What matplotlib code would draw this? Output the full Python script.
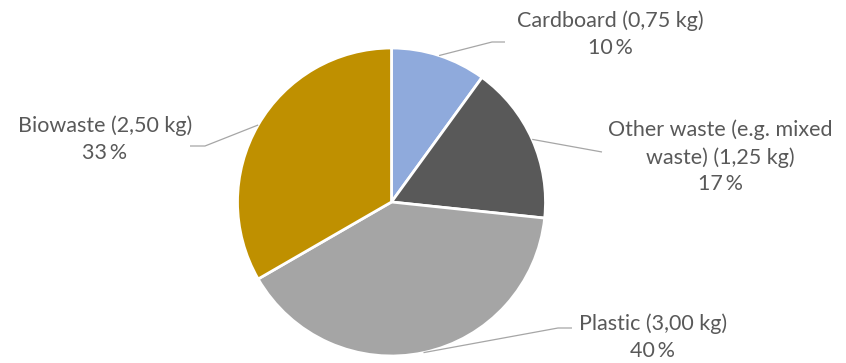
import numpy as np
import matplotlib
matplotlib.use("Agg")
import matplotlib.pyplot as plt

# Waste composition per household (kg)
categories = ["Cardboard", "Other waste (e.g. mixed\nwaste)", "Plastic", "Biowaste"]
weights_kg = [0.75, 1.25, 3.00, 2.50]
colors = ["#8FAADC", "#595959", "#A5A5A5", "#BF9000"]

W, H = 846, 363
fig = plt.figure(figsize=(W / 100, H / 100), dpi=100)
ax = fig.add_axes([0, 0, 1, 1])
ax.set_xlim(0, W)
ax.set_ylim(0, H)
ax.set_aspect("equal")
ax.axis("off")

cx, cy, r = 391.5, H - 202, 154
wedges, _ = ax.pie(weights_kg, colors=colors, startangle=90, counterclock=False,
                   center=(cx, cy), radius=r,
                   wedgeprops=dict(edgecolor="white", linewidth=2))
ax.set_xlim(0, W)
ax.set_ylim(0, H)

total = sum(weights_kg)

# label text centre (px from top-left), elbow point, line end, anchor angle on rim
label_pos = [(610, 34), (720, 157), (653, 337), (105, 139)]
elbows = [(492, 42), (602, 152), (558, 328), (205, 146)]
line_end = [(505, 42), (602, 152), (572, 328), (190, 146)]
anchor_deg = [72, 24, -78, 150]

for name, w, (lx, ly), (ex, ey), (tx, ty), a in zip(categories, weights_kg, label_pos,
                                                     elbows, line_end, anchor_deg):
    pct = round(100 * w / total)
    val = f"{w:.2f}".replace(".", ",")
    text = f"{name} ({val} kg)\n{pct}\u2009%"
    ax.text(lx, H - ly, text, ha="center", va="center", fontsize=15.5,
            family="Lato", color="#595959", linespacing=1.42)
    ax0 = cx + r * np.cos(np.radians(a))
    ay0 = cy + r * np.sin(np.radians(a))
    ax.plot([ax0, ex, tx], [ay0, H - ey, H - ty], color="#A6A6A6", lw=0.9,
            solid_capstyle="butt")

fig.savefig("out.png", dpi=100)
